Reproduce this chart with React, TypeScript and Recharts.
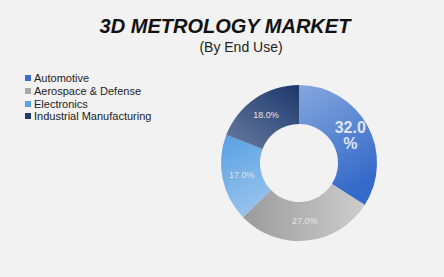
import React from 'react';
import { PieChart, Pie, Cell } from 'recharts';

const segments = ['Automotive', 'Aerospace & Defense', 'Electronics', 'Industrial Manufacturing'];
const shares = [32, 27, 17, 18];
const legendColors = ['#3b6cc9', '#a9a9a9', '#5ea2e2', '#1f3a6f'];

// gradient stops per slice: [from, to, x1, y1, x2, y2]
const gradients: [string, string, number, number, number, number][] = [
  ['#86a7de', '#346ac9', 0, 0, 0.4, 1],
  ['#9b9b9b', '#cdcdcd', 0, 0.5, 1, 0.5],
  ['#58a0e2', '#95c2ec', 0, 0, 0.3, 1],
  ['#62769c', '#1d386c', 0.2, 1, 1, 0],
];

const data = segments.map((name, i) => ({ name, value: shares[i] }));

const RADIAN = Math.PI / 180;

const renderLabel = (props: any) => {
  const { cx, cy, midAngle, innerRadius, outerRadius, value, index } = props;
  const r = (innerRadius + outerRadius) / 2;
  const x = cx + r * Math.cos(-midAngle * RADIAN);
  const y = cy + r * Math.sin(-midAngle * RADIAN);
  const text = `${value.toFixed(1)}%`;
  if (index === 0) {
    return (
      <text x={x} y={y} textAnchor="middle" fill="#dfe6f3" fontSize={16} fontWeight="bold"
        fontFamily="'Liberation Sans', Arial, sans-serif">
        <tspan x={x} dy={-2}>{value.toFixed(1)}</tspan>
        <tspan x={x} dy={16}>%</tspan>
      </text>
    );
  }
  return (
    <text x={x} y={y} textAnchor="middle" dominantBaseline="central" fill="#e4e4e4" fontSize={9}
      fontFamily="'Liberation Sans', Arial, sans-serif">
      {text}
    </text>
  );
};

export default function App() {
  return (
    <div style={{ position: 'absolute', left: 0, top: 0, width: 444, height: 277, background: '#f2f2f2',
      fontFamily: "'Liberation Sans', Arial, sans-serif" }}>
      <div style={{ position: 'absolute', left: 0, top: 15, width: 450, textAlign: 'center', fontSize: 20,
        fontWeight: 'bold', fontStyle: 'italic', color: '#111' }}>
        3D METROLOGY MARKET
      </div>
      <div style={{ position: 'absolute', left: 0, top: 39, width: 482, textAlign: 'center', fontSize: 14,
        color: '#222' }}>
        (By End Use)
      </div>
      <div style={{ position: 'absolute', left: 25, top: 72 }}>
        {segments.map((s, i) => (
          <div key={s} style={{ display: 'flex', alignItems: 'center', height: 12.7, fontSize: 11, color: '#222' }}>
            <span style={{ width: 6, height: 6, background: legendColors[i], marginRight: 3 }} />
            {s}
          </div>
        ))}
      </div>
      <PieChart width={444} height={277} margin={{ top: 0, right: 0, bottom: 0, left: 0 }}
        style={{ position: 'absolute', left: 0, top: 0 }}>
        <defs>
          {gradients.map((g, i) => (
            <linearGradient key={i} id={`grad${i}`} x1={g[2]} y1={g[3]} x2={g[4]} y2={g[5]}>
              <stop offset="0%" stopColor={g[0]} />
              <stop offset="100%" stopColor={g[1]} />
            </linearGradient>
          ))}
        </defs>
        <Pie data={data} dataKey="value" nameKey="name" cx={299} cy={163} innerRadius={39} outerRadius={78}
          startAngle={90} endAngle={-270} stroke="none" label={renderLabel} labelLine={false}
          isAnimationActive={false}>
          {data.map((d, i) => (
            <Cell key={d.name} fill={`url(#grad${i})`} />
          ))}
        </Pie>
      </PieChart>
    </div>
  );
}
